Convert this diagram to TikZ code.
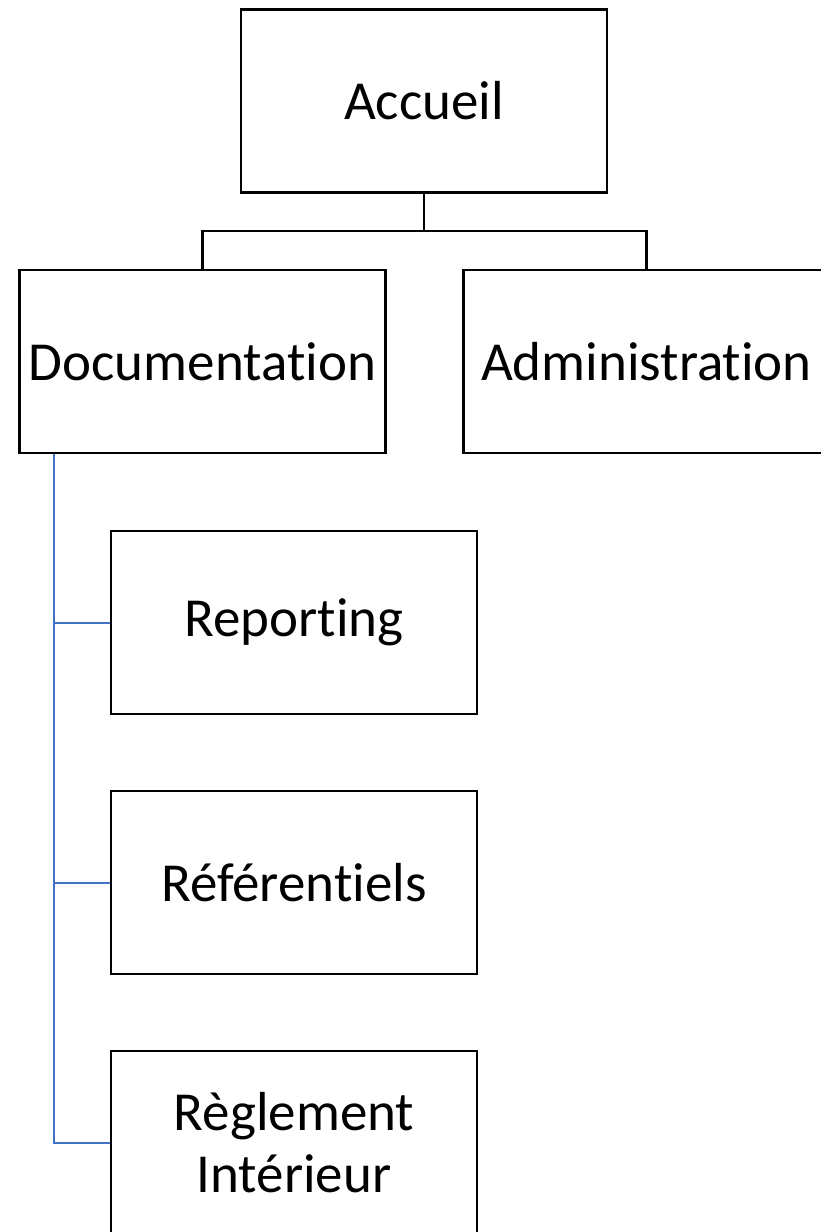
\documentclass[tikz,border=0pt]{standalone}
\usepackage{fontspec}
\setmainfont{Carlito}[Ligatures={NoCommon}]
\usepackage{tikz}
\usetikzlibrary{positioning, calc}
\definecolor{treeblue}{RGB}{68, 114, 196}

\tikzset{
    pagebox/.style={draw=black, line width=2.6pt, fill=white, minimum width=366pt, minimum height=183pt,
          inner sep=0pt, align=center, font=\fontsize{55}{62}\selectfont},
    tieline/.style={draw=black, line width=2.6pt},
    docline/.style={draw=treeblue, line width=2pt}
}

\begin{document}
\begin{tikzpicture}[x=1pt, y=-1pt]
    \useasboundingbox (0,0) rectangle (821,1232);
    % top level
    \node[pagebox] (accueil) at (424,101) {Accueil};
    \node[pagebox] (doc) at (202.5,361.5) {Documentation};
    \node[pagebox] (admin) at (646.5,361.5) {Administration};
    % documentation pages
    \node[pagebox] (reporting) at (294,622.5) {Reporting};
    \node[pagebox] (referentiels) at (294,882.5) {Référentiels};
    \node[pagebox] (reglement) at (294,1142.5) {Règlement\\Intérieur};
    % links
    \draw[tieline] (accueil.south) -- ++(0,37) -| (doc.north);
    \draw[tieline] (accueil.south) -- ++(0,37) -| (admin.north);
    \coordinate (trunk) at ($(doc.south west)+(36,0)$);
    \draw[docline] (trunk) |- (reporting.west);
    \draw[docline] (trunk) |- (referentiels.west);
    \draw[docline] (trunk) |- (reglement.west);
\end{tikzpicture}
\end{document}
